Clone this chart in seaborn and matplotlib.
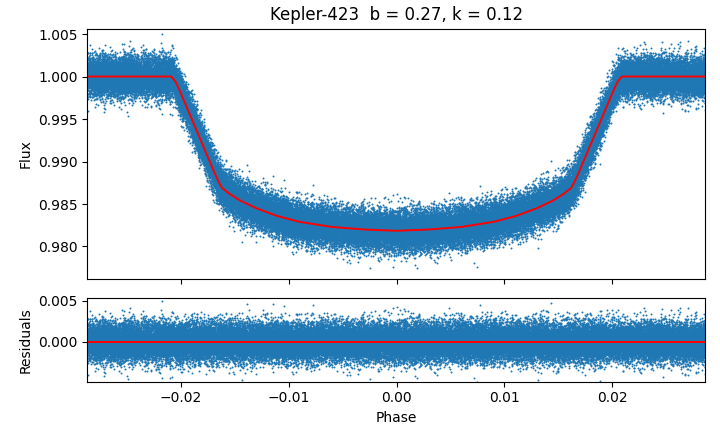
import numpy as np
import pandas as pd
import seaborn as sns
import matplotlib.pyplot as plt

# Transit model (phase, relative flux), symmetric about 0
half_phase = [0.0287, 0.0209, 0.0205, 0.0201, 0.0197, 0.0192, 0.0186, 0.0180,
              0.0174, 0.0169, 0.0165, 0.0162, 0.0155, 0.0145, 0.0130, 0.0111,
              0.0090, 0.0060, 0.0030, 0.0]
half_flux = [1.0000, 1.0000, 0.9994, 0.9983, 0.9971, 0.9956, 0.9938, 0.9920,
             0.9902, 0.9887, 0.9876, 0.9869, 0.9862, 0.9854, 0.9845, 0.9836,
             0.9829, 0.9823, 0.9820, 0.98185]

model_phase = [-p for p in half_phase] + half_phase[-2::-1]
model_flux = half_flux + half_flux[-2::-1]

n_points = 55000
noise_sigma = 0.00118

title = "Kepler-423  b = 0.27, k = 0.12"

# Build the photometry around the model
rng = np.random.default_rng(423)
phase = np.sort(rng.uniform(model_phase[0], model_phase[-1], n_points))
model_at_phase = np.interp(phase, model_phase, model_flux)
resid = rng.normal(0, noise_sigma, n_points)
df = pd.DataFrame({"Phase": phase, "Flux": model_at_phase + resid, "Residuals": resid})
model = pd.DataFrame({"Phase": model_phase, "Flux": model_flux})

fig, (ax1, ax2) = plt.subplots(2, 1, figsize=(7.2, 4.32), dpi=100, sharex=True,
                               gridspec_kw={"height_ratios": [3, 1]})
fig.subplots_adjust(left=0.1215, right=0.979, top=0.934, bottom=0.1164, hspace=0.114)

sns.scatterplot(data=df, x="Phase", y="Flux", ax=ax1, s=2, linewidth=0,
                color="#1f77b4", rasterized=True)
sns.lineplot(data=model, x="Phase", y="Flux", ax=ax1, color="red", linewidth=1.4)
ax1.set_ylim(0.97616, 1.00565)
ax1.set_xlabel("")
ax1.set_ylabel("Flux")
ax1.set_title(title)
ax1.tick_params(labelbottom=False)

sns.scatterplot(data=df, x="Phase", y="Residuals", ax=ax2, s=2, linewidth=0,
                color="#1f77b4", rasterized=True)
ax2.axhline(0, color="red", linewidth=1.4)
ax2.set_ylim(-0.0049, 0.00534)
ax2.set_xlim(-0.02867, 0.02860)
ax2.set_xlabel("Phase")
ax2.set_ylabel("Residuals")

plt.savefig("out.png", dpi=100)
